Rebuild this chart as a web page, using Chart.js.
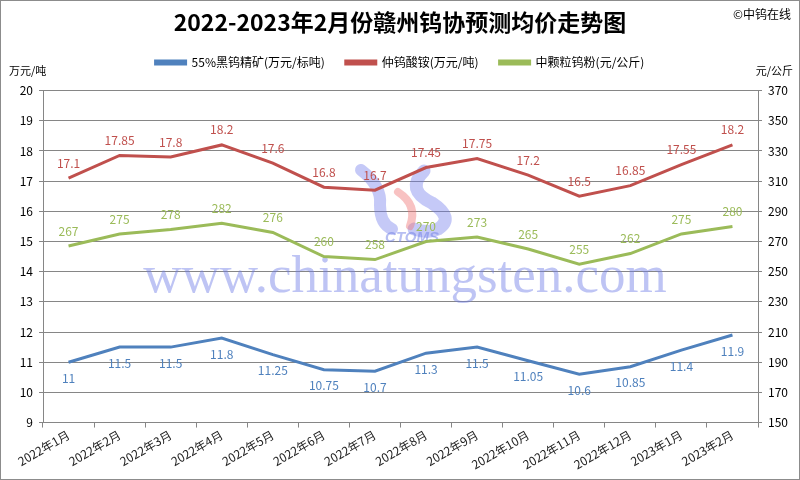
<!DOCTYPE html>
<html>
<head>
<meta charset="utf-8">
<script src="https://cdn.jsdelivr.net/npm/chart.js@4/dist/chart.umd.min.js"></script>
<style>
html,body{margin:0;padding:0;background:#fff;}
#wrap{position:relative;width:800px;height:480px;}
</style>
</head>
<body>
<div id="wrap"><canvas id="c" width="800" height="480"></canvas></div>
<script>
const categories = ['2022年1月','2022年2月','2022年3月','2022年4月','2022年5月','2022年6月','2022年7月','2022年8月','2022年9月','2022年10月','2022年11月','2022年12月','2023年1月','2023年2月'];
const concentrate = [11, 11.5, 11.5, 11.8, 11.25, 10.75, 10.7, 11.3, 11.5, 11.05, 10.6, 10.85, 11.4, 11.9];
const apt = [17.1, 17.85, 17.8, 18.2, 17.6, 16.8, 16.7, 17.45, 17.75, 17.2, 16.5, 16.85, 17.55, 18.2];
const powder = [267, 275, 278, 282, 276, 260, 258, 270, 273, 265, 255, 262, 275, 280];
const seriesNames = ['55%黑钨精矿(万元/标吨)', '仲钨酸铵(万元/吨)', '中颗粒钨粉(元/公斤)'];
const leftTicks = {min: 9, max: 20, step: 1};
const rightTicks = {min: 150, max: 370, step: 20};

const FONT = "'Noto Sans CJK SC', 'Noto Sans', sans-serif";
const BLUE = '#4F81BD', RED = '#C0504D', GREEN = '#9BBB59';

const labelPlugin = {
  id: 'valueLabels',
  afterDatasetsDraw(chart) {
    const ctx = chart.ctx;
    ctx.save();
    ctx.font = '12px ' + FONT;
    ctx.textAlign = 'center';
    ctx.textBaseline = 'middle';
    chart.data.datasets.forEach((ds, i) => {
      const meta = chart.getDatasetMeta(i);
      ctx.fillStyle = ds.labelColor;
      meta.data.forEach((pt, j) => {
        ctx.fillText(String(ds.data[j]), pt.x, pt.y + ds.labelOffset);
      });
    });
    ctx.restore();
  }
};

const legendGapPlugin = {
  id: 'legendGap',
  beforeLayout(chart) {
    const lg = chart.legend;
    if (lg && !lg._gapWrapped) {
      const orig = lg.fit.bind(lg);
      lg.fit = function () { orig(); this.height += 12; };
      lg._gapWrapped = true;
    }
  }
};

const decoPlugin = {
  id: 'deco',
  beforeDatasetsDraw(chart) {
    const ctx = chart.ctx;
    ctx.save();
    // logo swooshes
    ctx.lineCap = 'round';
    ctx.strokeStyle = 'rgba(110,120,235,0.40)';
    ctx.lineWidth = 12;
    ctx.beginPath();
    ctx.moveTo(361, 170);
    ctx.quadraticCurveTo(382, 186, 380, 205);
    ctx.quadraticCurveTo(380, 224, 392, 229);
    ctx.stroke();
    ctx.lineWidth = 13;
    ctx.beginPath();
    ctx.moveTo(424, 171);
    ctx.quadraticCurveTo(405, 190, 432, 203);
    ctx.quadraticCurveTo(455, 218, 438, 229);
    ctx.quadraticCurveTo(428, 234, 414, 229);
    ctx.stroke();
    ctx.strokeStyle = 'rgba(240,120,120,0.45)';
    ctx.lineWidth = 8;
    ctx.beginPath();
    ctx.moveTo(398, 192);
    ctx.quadraticCurveTo(418, 205, 410, 226);
    ctx.stroke();
    // watermark text
    ctx.fillStyle = 'rgba(110,125,230,0.45)';
    ctx.font = "53px 'Liberation Serif', 'DejaVu Serif', serif";
    ctx.textAlign = 'center';
    ctx.textBaseline = 'alphabetic';
    ctx.fillText('www.chinatungsten.com', 405, 292);
    ctx.font = "italic bold 15px 'Liberation Sans', sans-serif";
    ctx.fillStyle = 'rgba(110,125,230,0.50)';
    ctx.fillText('CTOMS', 412, 242);
    ctx.restore();
  },
  afterDraw(chart) {
    const ctx = chart.ctx;
    ctx.save();
    ctx.fillStyle = '#000';
    ctx.font = '11px ' + FONT;
    ctx.textBaseline = 'middle';
    ctx.textAlign = 'left';
    ctx.fillText('万元/吨', 9, 71);
    ctx.textAlign = 'right';
    ctx.fillText('元/公斤', 793, 71);
    ctx.font = '12px ' + FONT;
    ctx.fillText('©中钨在线', 791, 14);
    ctx.strokeStyle = '#8c8c8c';
    ctx.lineWidth = 1;
    ctx.strokeRect(0.5, 0.5, 799, 479);
    ctx.restore();
  }
};

new Chart(document.getElementById('c'), {
  type: 'line',
  data: {
    labels: categories,
    datasets: [
      {label: seriesNames[0], data: concentrate, yAxisID: 'y', borderColor: BLUE, backgroundColor: BLUE, labelColor: '#4F81BD', labelOffset: 16},
      {label: seriesNames[1], data: apt, yAxisID: 'y', borderColor: RED, backgroundColor: RED, labelColor: '#C0504D', labelOffset: -15},
      {label: seriesNames[2], data: powder, yAxisID: 'y1', borderColor: GREEN, backgroundColor: GREEN, labelColor: '#9BBB59', labelOffset: -15}
    ]
  },
  options: {
    responsive: false,
    animation: false,
    devicePixelRatio: 1,
    elements: {
      line: {borderWidth: 3, tension: 0},
      point: {radius: 0, hoverRadius: 0}
    },
    layout: {padding: {left: 8, right: 8, top: 0, bottom: 8}},
    plugins: {
      title: {
        display: true,
        text: '2022-2023年2月份赣州钨协预测均价走势图',
        color: '#000',
        font: {family: FONT, size: 23, weight: 'bold'},
        padding: {top: 8, bottom: 0}
      },
      legend: {
        display: true,
        position: 'top',
        labels: {
          color: '#000',
          font: {family: FONT, size: 12},
          boxWidth: 30,
          boxHeight: 3,
          padding: 21
        }
      },
      tooltip: {enabled: false}
    },
    scales: {
      x: {
        offset: true,
        grid: {drawOnChartArea: false, offset: true, tickLength: 5, color: '#868686'},
        border: {color: '#868686'},
        ticks: {minRotation: 30, maxRotation: 30, color: '#222', font: {family: FONT, size: 12}, padding: 0}
      },
      y: {
        position: 'left',
        min: leftTicks.min, max: leftTicks.max,
        ticks: {stepSize: leftTicks.step, color: '#000', font: {family: FONT, size: 12}, padding: 6},
        grid: {color: '#868686', tickLength: 4},
        border: {color: '#868686'},
        afterFit(s) { s.width = 35; }
      },
      y1: {
        position: 'right',
        min: rightTicks.min, max: rightTicks.max,
        ticks: {stepSize: rightTicks.step, color: '#000', font: {family: FONT, size: 12}, padding: 6},
        grid: {drawOnChartArea: false, tickLength: 4, color: '#868686'},
        border: {color: '#868686'},
        afterFit(s) { s.width = 34; }
      }
    }
  },
  plugins: [legendGapPlugin, labelPlugin, decoPlugin]
});
</script>
</body>
</html>
